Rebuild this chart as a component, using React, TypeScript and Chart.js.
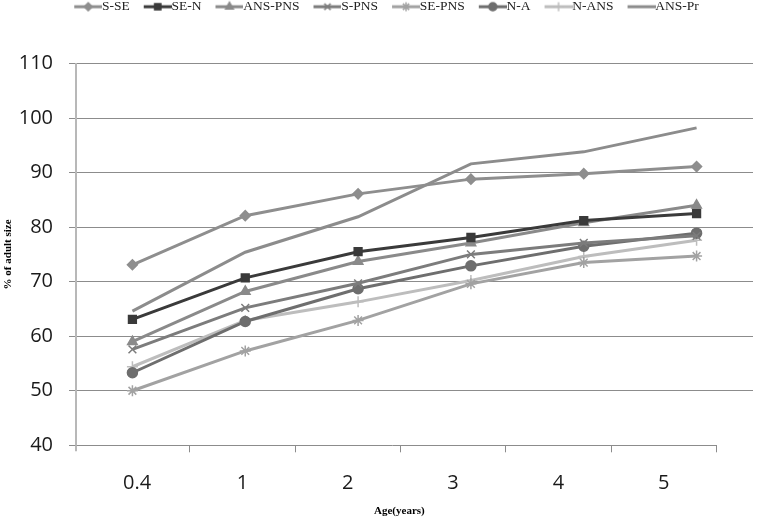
import React, { useEffect, useRef } from 'react';
import { Chart, registerables } from 'chart.js';
import { drawPoint } from 'chart.js/helpers';

Chart.register(...registerables);

// ---- data ----
const ageLabels = ['0.4', '1', '2', '3', '4', '5'];
const seriesNames = ['S-SE', 'SE-N', 'ANS-PNS', 'S-PNS', 'SE-PNS', 'N-A', 'N-ANS', 'ANS-Pr'];
const sSe = [73.1, 82.1, 86.1, 88.8, 89.8, 91.1];
const seN = [63.1, 70.7, 75.5, 78.1, 81.2, 82.5];
const ansPns = [59.0, 68.2, 73.7, 77.1, 80.8, 84.0];
const sPns = [57.6, 65.2, 69.7, 75.0, 77.1, 78.4];
const sePns = [50.0, 57.3, 62.9, 69.6, 73.5, 74.7];
const nA = [53.3, 62.7, 68.7, 72.9, 76.5, 78.9];
const nAns = [54.4, 62.9, 66.3, 70.2, 74.6, 77.6];
const ansPr = [64.6, 75.4, 81.9, 91.6, 93.8, 98.2];
const yMin = 40;
const yMax = 110;
const yStep = 10;

const seriesValues = [sSe, seN, ansPns, sPns, sePns, nA, nAns, ansPr];

// ---- styles ----
const seriesColors = ['#8e8e8e', '#3a3a3a', '#8a8a8a', '#7c7c7c', '#a2a2a2', '#6e6e6e', '#bdbdbd', '#8c8c8c'];
const seriesPoints: (string | false)[] = ['rectRot', 'rect', 'triangle', 'crossRot', 'star', 'circle', 'cross', false];
const seriesRadius = [5, 5.5, 5.5, 5.5, 5.5, 5, 5.5, 0];

function makeLegendImage(color: string, style: string | false, radius: number) {
  const c = document.createElement('canvas');
  c.width = 49;
  c.height = 14;
  const ctx = c.getContext('2d')!;
  ctx.strokeStyle = color;
  ctx.fillStyle = color;
  ctx.lineWidth = 3;
  ctx.beginPath();
  ctx.moveTo(21, 7);
  ctx.lineTo(49, 7);
  ctx.stroke();
  if (style) {
    ctx.lineWidth = 1.5;
    drawPoint(ctx, { pointStyle: style as any, radius: radius * 0.8, rotation: 0, borderWidth: 1.5 }, 35, 7);
  }
  return c;
}

export default function App() {
  const ref = useRef<HTMLCanvasElement>(null);
  useEffect(() => {
    document.body.style.margin = '0';
    const legendImgs = seriesNames.map((_, i) => makeLegendImage(seriesColors[i], seriesPoints[i], seriesRadius[i]));
    const axisLine = {
      id: 'axisLine',
      beforeDatasetsDraw(chart: any) {
        const { ctx, chartArea } = chart;
        const xl = chart.scales.xl;
        const xEnd = xl.getPixelForValue(ageLabels.length - 0.5);
        ctx.save();
        ctx.strokeStyle = '#8c8c8c';
        ctx.lineWidth = 1;
        ctx.beginPath();
        ctx.moveTo(chartArea.left - 7, Math.round(chartArea.bottom) + 0.5);
        ctx.lineTo(xEnd, Math.round(chartArea.bottom) + 0.5);
        ctx.stroke();
        ctx.strokeStyle = '#b8b8b8';
        ctx.lineWidth = 2;
        ctx.beginPath();
        ctx.moveTo(chartArea.left, chartArea.bottom);
        ctx.lineTo(chartArea.left, chartArea.bottom + 6);
        ctx.stroke();
        ctx.restore();
      },
    };
    const chart = new Chart(ref.current!, {
      type: 'line',
      data: {
        labels: ageLabels,
        datasets: seriesNames.map((name, i) => ({
          label: name,
          data: seriesValues[i],
          xAxisID: 'x',
          yAxisID: 'y',
          borderColor: seriesColors[i],
          backgroundColor: seriesColors[i],
          pointBackgroundColor: seriesColors[i],
          pointBorderColor: seriesColors[i],
          borderWidth: 3,
          tension: 0,
          pointStyle: (seriesPoints[i] || 'circle') as any,
          pointRadius: seriesRadius[i],
          pointBorderWidth: 1.5,
          pointHoverRadius: seriesRadius[i],
        })),
      },
      options: {
        animation: false,
        responsive: false,
        devicePixelRatio: 1,
        layout: { padding: { left: 0, right: 1, top: 0, bottom: 0 } },
        plugins: {
          tooltip: { enabled: false },
          title: { display: true, text: '', weight: 500, padding: { top: 28, bottom: 0 }, font: { size: 10 } } as any,
          legend: {
            position: 'top',
            labels: {
              usePointStyle: true,
              pointStyleWidth: 35,
              padding: 0,
              color: '#222',
              font: { family: 'Liberation Serif', size: 13.5 },
              generateLabels: (ch: any) =>
                ch.data.datasets.map((ds: any, i: number) => ({
                  text: ds.label,
                  pointStyle: legendImgs[i],
                  fillStyle: 'transparent',
                  strokeStyle: 'transparent',
                  lineWidth: 0,
                  hidden: false,
                  datasetIndex: i,
                  fontColor: '#222',
                })),
            },
          },
        },
        scales: {
          x: { type: 'category', display: false, offset: true },
          xl: {
            type: 'linear',
            position: 'bottom',
            min: -0.58,
            max: 5.848,
            afterBuildTicks: (scale: any) => {
              const t: any[] = [];
              for (let i = 0; i < ageLabels.length; i++) {
                t.push({ value: i });
                t.push({ value: i + 0.5 });
              }
              scale.ticks = t;
            },
            afterFit: (scale: any) => {
              scale.height = 72.7;
            },
            ticks: {
              autoSkip: false,
              maxRotation: 0,
              padding: 19,
              color: '#1a1a1a',
              font: { family: 'Open Sans', size: 20 },
              callback: (v: any) => (Number.isInteger(v) ? ageLabels[v] : ''),
            },
            grid: {
              drawOnChartArea: false,
              tickLength: 7,
              color: (c: any) => (c.tick && Number.isInteger(c.tick.value) ? 'rgba(0,0,0,0)' : '#8c8c8c'),
            },
            border: { display: false },
            title: {
              display: true,
              text: 'Age(years)' + '           ',
              color: '#000',
              font: { family: 'Liberation Serif', size: 11, weight: 'bold' },
              padding: { top: 0, bottom: 0 },
            },
          },
          y: {
            min: yMin,
            max: yMax,
            afterFit: (scale: any) => {
              scale.width = 76;
            },
            ticks: {
              stepSize: yStep,
              padding: 16,
              color: '#1a1a1a',
              font: { family: 'Open Sans', size: 20 },
            },
            grid: {
              tickLength: 7,
              lineWidth: 1,
              color: (c: any) => (c.tick && c.tick.value === yMin ? 'rgba(0,0,0,0)' : '#8c8c8c'),
            },
            border: { display: true, color: '#b8b8b8', width: 2 },
            title: {
              display: true,
              text: '% of adult size',
              color: '#000',
              font: { family: 'Liberation Serif', size: 11, weight: 'bold' },
              padding: { top: 2, bottom: 0 },
            },
          },
        },
      },
      plugins: [axisLine],
    });
    return () => chart.destroy();
  }, []);
  return (
    <div style={{ width: 760, height: 518 }}>
      <canvas ref={ref} width={760} height={518} />
    </div>
  );
}
